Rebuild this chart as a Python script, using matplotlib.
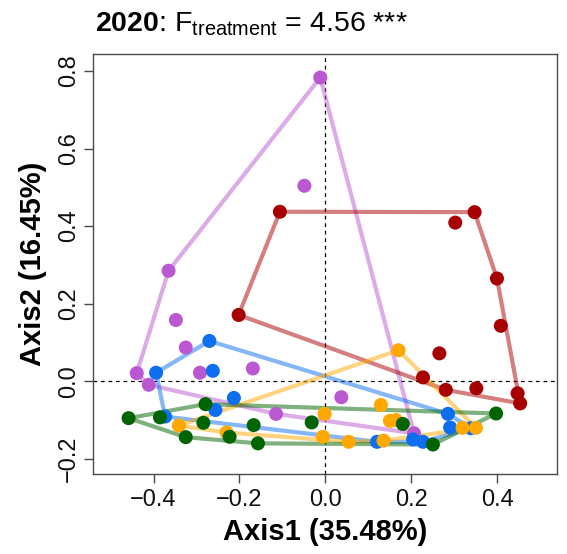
import numpy as np
import matplotlib
matplotlib.use("Agg")
import matplotlib.pyplot as plt
from matplotlib import font_manager

fams = {f.name for f in font_manager.fontManager.ttflist}
FONT = "Liberation Sans Narrow" if "Liberation Sans Narrow" in fams else "Liberation Sans"
plt.rcParams['font.family'] = [FONT, 'DejaVu Sans']
plt.rcParams['mathtext.fontset'] = 'custom'
plt.rcParams['mathtext.rm'] = FONT
plt.rcParams['mathtext.bf'] = FONT + ':bold'
plt.rcParams['axes.unicode_minus'] = True

# ---- data (PCoA scores per treatment) ----
purple_x = [-0.012, -0.049, -0.365, -0.348, -0.325, -0.439, -0.292, -0.169, -0.411, -0.115, 0.037, 0.206]
purple_y = [0.783, 0.504, 0.285, 0.158, 0.087, 0.021, 0.022, 0.033, -0.009, -0.084, -0.041, -0.134]

red_x = [-0.106, 0.347, 0.302, 0.399, 0.408, -0.202, 0.265, 0.227, 0.280, 0.351, 0.447, 0.453]
red_y = [0.437, 0.436, 0.409, 0.265, 0.143, 0.171, 0.072, 0.010, -0.022, -0.018, -0.031, -0.057]

blue_x = [-0.270, -0.394, -0.262, -0.213, -0.256, -0.373, 0.285, 0.290, 0.120, 0.204, 0.227, 0.338]
blue_y = [0.104, 0.022, 0.027, -0.043, -0.074, -0.091, -0.084, -0.119, -0.156, -0.150, -0.156, -0.121]

orange_x = [0.170, 0.129, -0.002, 0.150, 0.164, -0.341, -0.230, -0.006, 0.054, 0.135, 0.319, 0.350]
orange_y = [0.080, -0.061, -0.084, -0.102, -0.100, -0.114, -0.132, -0.143, -0.156, -0.153, -0.120, -0.120]

green_x = [-0.458, -0.279, -0.385, -0.284, -0.167, -0.032, -0.325, -0.223, -0.157, 0.180, 0.250, 0.397]
green_y = [-0.095, -0.059, -0.093, -0.107, -0.113, -0.106, -0.144, -0.143, -0.160, -0.110, -0.163, -0.083]

groups = [
    (purple_x, purple_y, "#BA58D2"),
    (red_x, red_y, "#A80000"),
    (blue_x, blue_y, "#0D6EF0"),
    (orange_x, orange_y, "#FFA800"),
    (green_x, green_y, "#006400"),
]

x_ticks = [-0.4, -0.2, 0.0, 0.2, 0.4]
y_ticks = [-0.2, 0.0, 0.2, 0.4, 0.6, 0.8]


def convex_hull(xs, ys):
    pts = sorted(set(zip(xs, ys)))
    if len(pts) < 3:
        return pts
    def cross(o, a, b):
        return (a[0]-o[0])*(b[1]-o[1]) - (a[1]-o[1])*(b[0]-o[0])
    lower, upper = [], []
    for p in pts:
        while len(lower) >= 2 and cross(lower[-2], lower[-1], p) <= 0:
            lower.pop()
        lower.append(p)
    for p in reversed(pts):
        while len(upper) >= 2 and cross(upper[-2], upper[-1], p) <= 0:
            upper.pop()
        upper.append(p)
    return lower[:-1] + upper[:-1]


fig = plt.figure(figsize=(5.67, 5.54), dpi=100)
ax = fig.add_axes([0.1646, 0.1439, 0.9917 - 0.1646 - 0.0091, 0.9025 - 0.1439])

ax.axhline(0, color='black', lw=0.9, ls=(0, (3, 3)), zorder=1)
ax.axvline(0, color='black', lw=0.9, ls=(0, (3, 3)), zorder=1)

for xs, ys, c in groups:
    hull = convex_hull(xs, ys)
    hx = [p[0] for p in hull] + [hull[0][0]]
    hy = [p[1] for p in hull] + [hull[0][1]]
    ax.plot(hx, hy, color=c, alpha=0.5, lw=3.0, solid_joinstyle='round', zorder=2)

for xs, ys, c in groups:
    ax.scatter(xs, ys, s=102, color=c, edgecolors='none', zorder=3)

ax.set_xlim(-0.540, 0.539)
ax.set_ylim(-0.2397, 0.8436)
ax.set_xticks(x_ticks)
ax.set_yticks(y_ticks)
ax.set_xticklabels([f"{v:.1f}".replace('-', '\u2212') for v in x_ticks])
ax.set_yticklabels([f"{v:.1f}".replace('-', '\u2212') for v in y_ticks],
                   rotation=90, va='center')
for s in ax.spines.values():
    s.set_color('#4a4a4a')
    s.set_linewidth(1.0)
ax.tick_params(direction='out', length=6.5, width=1.0, color='#4a4a4a',
               labelsize=17, labelcolor='#111111', pad=4)
ax.tick_params(axis='y', pad=3)

ax.set_xlabel("Axis1 (35.48%)", fontsize=21, fontweight='bold', labelpad=5)
ax.set_ylabel("Axis2 (16.45%)", fontsize=21, fontweight='bold', labelpad=8)

fig.text(0.1680, 0.943, r"$\mathbf{2020}$: F$_{\mathrm{treatment}}$ = 4.56 ***",
         fontsize=20.5, ha='left', va='baseline')

fig.savefig("out.png", dpi=100)
